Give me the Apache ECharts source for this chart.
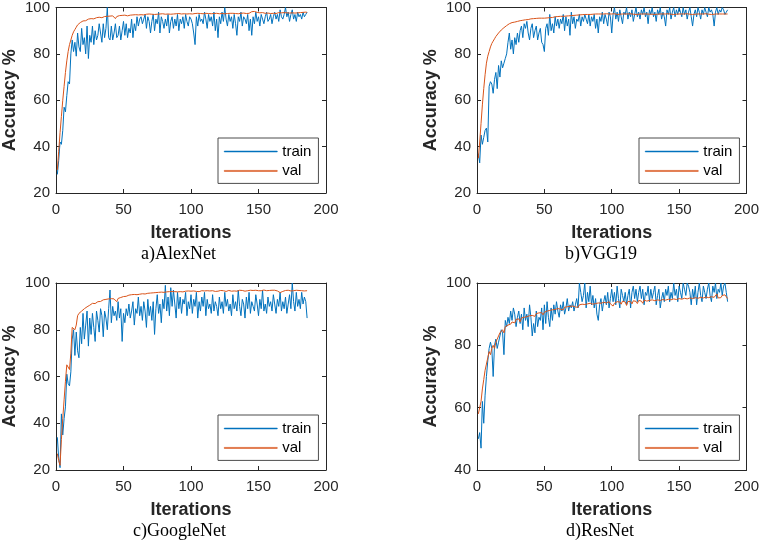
<!DOCTYPE html>
<html>
<head>
<meta charset="utf-8">
<script src="https://cdn.jsdelivr.net/npm/echarts@6/dist/echarts.min.js"></script>
<style>html,body{margin:0;padding:0;background:#fff}#c{width:762px;height:541px}</style>
</head>
<body>
<div id="c"></div>
<script>
// ---------- data ----------
const xTicks = [0, 50, 100, 150, 200];
const captions = ['a)AlexNet', 'b)VGG19', 'c)GoogleNet', 'd)ResNet'];
const seriesNames = ['train', 'val'];
const yMins = [20, 20, 20, 40];

const alexTrain = [
28,34,42,41,47,57,55,62,68,67,
80,86,81,85,79,89,83,81,91,84,
87,80,92,78,88,85,92,84,90,86,
88,93,89,85,93,87,91,100,87,86,
92,86,89,93,87,88,92,86,90,94,
88,93,87,91,89,95,87,93,90,96,
92,95,96,93,95,97,91,96,94,89,
94,97,90,95,93,98,89,96,94,91,
95,92,97,89,94,96,91,95,92,97,
90,95,93,96,91,97,94,92,96,95,
93,89,84,96,92,97,94,95,93,98,
95,91,97,94,96,92,98,90,95,87,
96,93,98,94,100,95,92,97,94,96,
91,97,93,88,96,94,98,92,96,95,
93,97,90,95,88,96,93,98,94,96,
92,97,95,93,96,98,94,95,97,93,
96,98,95,97,94,99,96,95,97,100,
96,98,94,97,99,95,97,94,98,96,
97,95,98,96,97,98];
const alexVal = [
30,38,46,53,60,66,72,77,81,84,
86,88,89.5,90.5,91.5,92.5,93,93.5,94,94.2,
94.5,94.3,94.8,95,94.7,95.2,95.3,95.1,95.5,95.6,
95.4,95.8,95.9,95.6,96,96.1,95.9,96.2,96,96.3,
96.2,96.4,96,95.2,96.1,96.4,96.5,96.3,96.6,96.5,
96.7,96.6,96.4,96.8,96.7,96.9,96.8,96.6,96.9,97,
96.8,97,96.9,97.1,96.8,97,97.1,96.9,97.2,97,
97.1,97.3,97,97.2,97.1,97.3,97.2,97,97.3,97.2,
97.1,97.3,97.2,97.4,97.1,97.3,97.2,97.4,97.3,97.1,
97.4,97.3,97.2,97.5,97.3,97.4,97.2,97.5,97.3,97.4,
97.2,97.5,97.4,97.3,97.5,97.2,97.4,97.5,97.3,97.4,
97.5,97.3,97.4,97.6,97.3,97.5,97.4,97.2,97.5,97.4,
97.3,97.5,97.4,97.6,97.3,97.5,97.4,97.6,97.5,97.3,
97.5,97.6,97.4,97.5,97.3,97.6,97.5,97.4,97.6,97.5,
97.4,97.6,97.5,97.8,98.2,98.4,98.3,98.1,97.9,97.8,
97.7,97.9,97.8,97.6,97.5,97.3,97.6,97.5,97.4,97.6,
97.5,97.7,97.4,97.6,97.8,97.5,97.7,97.6,97.8,97.5,
97.7,97.9,97.6,97.8,97.7,97.9,97.6,97.8,97.7,97.9,
97.8,97.6,97.9,97.8,98,97.9];

const vggTrain = [
37,33,45,41,44,47,48,42,66,68,
67,63,69,72,65,75,70,77,74,76,
78,80,85,89,82,86,80,87,84,89,
85,90,92,87,93,91,94,89,86,91,
93,87,90,92,86,89,91,85,84,81,
91,93,88,97,90,93,89,96,92,95,
91,95,93,97,90,96,92,95,88,98,
93,96,91,95,94,97,92,96,94,97,
95,93,97,92,96,94,97,91,95,89,
96,94,98,93,97,95,92,98,96,89,
97,100,95,98,94,99,96,93,98,97,
100,95,98,96,99,94,97,100,96,98,
95,99,97,100,96,98,93,99,97,100,
96,98,94,99,97,100,95,98,96,92,
99,97,100,95,98,100,96,99,97,100,
98,96,100,97,99,95,98,100,96,92,
97,99,96,100,98,95,99,97,100,98,
96,100,98,99,97,92,98,100,97,99,
98,100,99,97,98,99];
const vggVal = [
35,42,50,58,65,71,76,79,81,83,
84.5,85.5,86.5,87.5,88.3,89,89.7,90.3,90.8,91.3,
91.8,92.2,92.6,93,93.3,93.5,93.4,93.7,93.9,94,
94.1,94.3,94.2,94.5,94.6,94.7,94.6,94.8,95,95.1,
95,95.2,95.1,95.3,95.2,95.4,95.3,95.4,95.5,95.4,
95.6,95.5,95.7,95.6,95.8,95.7,95.9,96,95.9,96.1,
96,96.2,96.3,96.2,96.4,96.3,96.5,96.4,96.6,96.5,
96.7,96.6,96.8,96.7,96.9,96.8,97,96.9,97,97,
97.1,97,97.1,97,97.2,97.1,97,97.2,97.1,97.2,
97.1,97.2,97,97.2,97.1,97.3,97.1,97.2,97,97.2,
97.1,97.3,97.2,97,97.2,97.1,97.3,97.2,97.1,97.2,
97,97.2,97.1,97.3,97.2,97.1,97.2,97,97.2,97.1,
97.3,97.2,97.1,97.2,97,97.2,97.3,97.1,97.2,97.1,
97.2,97,97.2,97.1,97.3,97.2,97.1,97.2,97,97.2,
97.1,97.3,97.2,97.1,97.2,97,97.2,97.1,97.3,97.2,
97.1,97.2,97,97.2,97.1,97.3,97.2,97.1,97.2,97,
97.2,97.1,97.3,97.2,97.1,97.2,97,97.2,97.1,97.3,
97.2,97.1,97.2,97,97.2,97.1,97.3,97.2,97.1,97.2,
97,97.2,97.1,97.2,97.1,97.2];

const googTrain = [
34,25,21,44,35,42,47,61,57,56,
62,76,80,69,79,71,68,81,74,87,
76,82,88,73,85,78,87,81,75,88,
84,79,89,86,77,88,85,80,89,97,
83,90,86,88,84,92,85,89,75,87,
83,89,86,91,85,88,92,82,89,87,
94,86,90,84,92,88,81,93,86,90,
84,92,78,89,95,87,91,83,93,89,
99,88,94,86,98,90,97,91,85,96,
89,94,87,93,91,96,86,92,89,95,
87,93,90,96,85,92,88,94,90,96,
86,93,89,91,87,95,88,92,90,86,
94,89,92,87,96,90,93,88,91,86,
95,89,92,88,97,90,86,93,91,85,
94,89,96,87,92,90,88,95,91,86,
93,89,97,88,91,87,94,90,92,88,
95,91,87,93,90,96,88,92,89,94,
87,91,95,89,100,92,88,96,90,93,
89,96,91,94,92,85];
const googVal = [
27,24,22,33,42,50,58,65,65,63,
70,81,81,80,82,86,87,87.5,88,88.5,
89,89.2,89.8,90.2,90.5,91,91.3,91.5,91.2,91.8,
92,92.3,92.1,92.5,92.8,92.6,93,92.9,93.2,93,
93.3,93.5,93.2,92.6,92,93.4,93.6,93.8,94,94.2,
94.4,94.3,94.6,94.8,94.7,95,94.9,95.1,95.2,95,
95.3,95.2,95.5,95.4,95.6,95.3,95.7,95.6,95.8,95.7,
95.9,95.8,96,95.9,96.1,96,96.2,96.1,96.2,96,
96.3,96.2,96.4,96.3,96.2,96.4,96.1,96.3,96.4,96.2,
96.4,96.3,96.5,96.2,96.4,96.5,96.3,96.6,96.4,96.5,
96.3,96.6,96.5,96.4,96.6,96.3,96.5,96.7,96.4,96.6,
96.5,96.7,96.4,96.6,96.5,96.7,96.6,96.4,96.7,96.5,
96.6,96.8,96.5,96.7,96.6,96.4,96.7,96.8,96.6,96.5,
96.7,96.6,96.8,96.5,96.7,96.9,96.6,96.8,96.7,96.5,
96.8,96.7,96.6,96.9,96.7,96.8,96.6,96.9,96.8,96.7,
96.9,96.7,96.8,97,96.8,96.7,96.9,96.8,97,96.9,
96.7,96.9,96.8,96.6,96.2,95.9,96.1,96.4,96.6,96.8,
96.7,96.9,96.8,96.6,96.9,96.7,96.8,96.9,96.7,96.8,
96.9,96.7,96.8,96.6,96.8,96.7];

const resTrain = [
50,52,47,62,55,64,70,75,79,81,
79,70,80,82,79,81,83,85,84,77,
88,86,89,87,91,88,92,90,86,89,
91,87,90,85,92,88,90,86,93,89,
83,87,84,91,86,89,88,92,85,93,
87,94,89,86,92,88,93,90,94,91,
89,93,91,94,90,92,95,91,93,92,
94,91,93,95,92,100,97,94,96,100,
92,97,94,99,93,96,92,95,90,88,
93,95,91,94,96,93,97,92,95,98,
94,97,93,99,95,92,98,96,94,97,
93,96,98,92,97,99,95,98,94,97,
99,95,98,93,97,96,99,94,98,95,
97,99,93,96,98,92,95,97,94,98,
96,99,94,97,95,100,96,98,94,99,
97,95,100,98,96,100,99,97,93,98,
95,99,93,97,100,96,94,99,97,95,
98,100,96,94,99,97,100,95,98,97,
100,96,99,100,97,94];
const resVal = [
58,58,62,66,69,72,74,76,78,77,
79,80,79,81,82,83,84,84.5,85,84,
86,85.5,86.5,87,86.8,87.5,88,87.2,88.3,87.8,
88.5,87.5,88.8,88.2,89,88.4,89.2,88.6,89.5,89,
89.6,90,89.3,90.2,89.7,90.4,89.9,90.5,89.8,90.6,
90.2,91,90.4,91.2,90.6,91.4,90.8,91.5,91,91.8,
91.2,91.6,92,91.4,92.2,91.7,92.4,91.8,92.5,92,
92.6,92.1,92.3,92.8,92.2,93,92.4,93.2,92.6,93.1,
92.5,93.3,92.8,93.5,92.9,93.2,92.7,93.4,93,93.6,
93.1,93.5,92.9,93.8,93.2,93.6,93,94,93.3,93.7,
92.6,93.5,93.1,94,93.4,93.9,93.2,94.2,93.6,93.9,
92.8,94.1,93.5,94,93.3,94.3,93.7,94.1,93.4,94.4,
93.8,94.2,93.5,94.5,93.9,94.2,93.6,94.4,93.8,94.6,
94,94.3,93.7,94.6,94.1,94.4,93.8,94.7,94.2,94.5,
93.9,94.8,94.3,94.6,94,94.9,94.4,94.7,94.1,95,
94.5,94.8,94.2,95.1,94.6,94.9,94.3,95.2,94.7,95,
94.4,95.3,94.8,95.1,94.5,95.4,94.9,95.2,94.6,95.5,
95,95.3,94.7,95.6,95.1,95.4,94.8,96.5,95.2,95.8,
95.3,96,95.4,96.2,95.6,95];

const trainSets = [alexTrain, vggTrain, googTrain, resTrain];
const valSets = [alexVal, vggVal, googVal, resVal];

// ---------- layout / style ----------
const layout = [
  {left: 56,  top: 7,   width: 270, height: 186, cap: [141, 245], leg: [218, 138]},
  {left: 477, top: 7,   width: 271, height: 186, cap: [565, 245], leg: [639, 138]},
  {left: 56,  top: 283, width: 270, height: 187, cap: [133, 522], leg: [218, 415]},
  {left: 477, top: 283, width: 271, height: 187, cap: [566, 522], leg: [639, 415]}
];
const SANS = '"Liberation Sans", Arial, sans-serif';
const SERIF = '"Liberation Serif", "Times New Roman", serif';
const AX = '#262626';
const C_TRAIN = '#0072BD', C_VAL = '#D95319';
const seriesColors = [C_TRAIN, C_VAL];
// unique internal series ids per panel; legend shows only the plain name
const uid = (k, n) => 'p' + k + '|' + n;

const grid = [], xAxis = [], yAxis = [], series = [], legend = [], title = [];
layout.forEach((L, k) => {
  grid.push({left: L.left, top: L.top, width: L.width, height: L.height, show: false});
  const xMax = xTicks[xTicks.length - 1];
  const xInt = xTicks[1] - xTicks[0];
  const common = {
    axisLine: {show: true, onZero: false, lineStyle: {color: AX, width: 1}},
    axisTick: {show: true, inside: true, length: 4, lineStyle: {color: AX, width: 1}},
    splitLine: {show: false}
  };
  xAxis.push(Object.assign({}, common, {
    type: 'value', gridIndex: k, position: 'bottom', min: xTicks[0], max: xMax, interval: xInt,
    name: 'Iterations', nameLocation: 'middle', nameGap: 31,
    nameTextStyle: {fontFamily: SANS, fontSize: 18, fontWeight: 'bold', color: AX},
    axisLabel: {fontFamily: SANS, fontSize: 15, color: AX, margin: 9}
  }));
  xAxis.push(Object.assign({}, common, {
    type: 'value', gridIndex: k, position: 'top', min: xTicks[0], max: xMax, interval: xInt,
    axisLabel: {show: false}
  }));
  yAxis.push(Object.assign({}, common, {
    type: 'value', gridIndex: k, position: 'left', min: yMins[k], max: 100, interval: 20,
    name: 'Accuracy %', nameLocation: 'middle', nameGap: 37,
    nameTextStyle: {fontFamily: SANS, fontSize: 18, fontWeight: 'bold', color: AX},
    axisLabel: {fontFamily: SANS, fontSize: 15, color: AX, margin: 6}
  }));
  yAxis.push(Object.assign({}, common, {
    type: 'value', gridIndex: k, position: 'right', min: yMins[k], max: 100, interval: 20,
    axisLabel: {show: false}
  }));
  [trainSets[k], valSets[k]].forEach((arr, s) => {
    series.push({
      type: 'line', name: uid(k, seriesNames[s]), xAxisIndex: 2 * k, yAxisIndex: 2 * k,
      data: arr.map((v, i) => [i + 1, v]),
      symbol: 'none', showSymbol: false, animation: false,
      color: seriesColors[s],
      lineStyle: {color: seriesColors[s], width: 1},
      itemStyle: {color: seriesColors[s], borderColor: seriesColors[s]}
    });
  });
  legend.push({
    data: seriesNames.map((n, s) => ({
      name: uid(k, n), icon: 'rect',
      itemStyle: {color: seriesColors[s], borderColor: seriesColors[s], borderWidth: 0.5, opacity: 1, decal: 'none'},
      lineStyle: {color: seriesColors[s], width: 1, opacity: 1}
    })),
    formatter: (name) => name.split('|')[1],
    orient: 'vertical', left: L.leg[0], top: L.leg[1],
    backgroundColor: '#fff', borderColor: '#4d4d4d', borderWidth: 1, borderRadius: 0,
    padding: [6, 7, 5, 6], itemGap: 4.4, itemWidth: 53, itemHeight: 1,
    selectedMode: false,
    textStyle: {fontFamily: SANS, fontSize: 15, color: '#000'}
  });
  title.push({
    text: captions[k], left: L.cap[0], top: L.cap[1], padding: 0,
    textStyle: {fontFamily: SERIF, fontSize: 18, fontWeight: 'normal', color: '#000'}
  });
});

const chart = echarts.init(document.getElementById('c'), null, {renderer: 'canvas'});
chart.setOption({animation: false, grid, xAxis, yAxis, series, legend, title});
</script>
</body>
</html>
